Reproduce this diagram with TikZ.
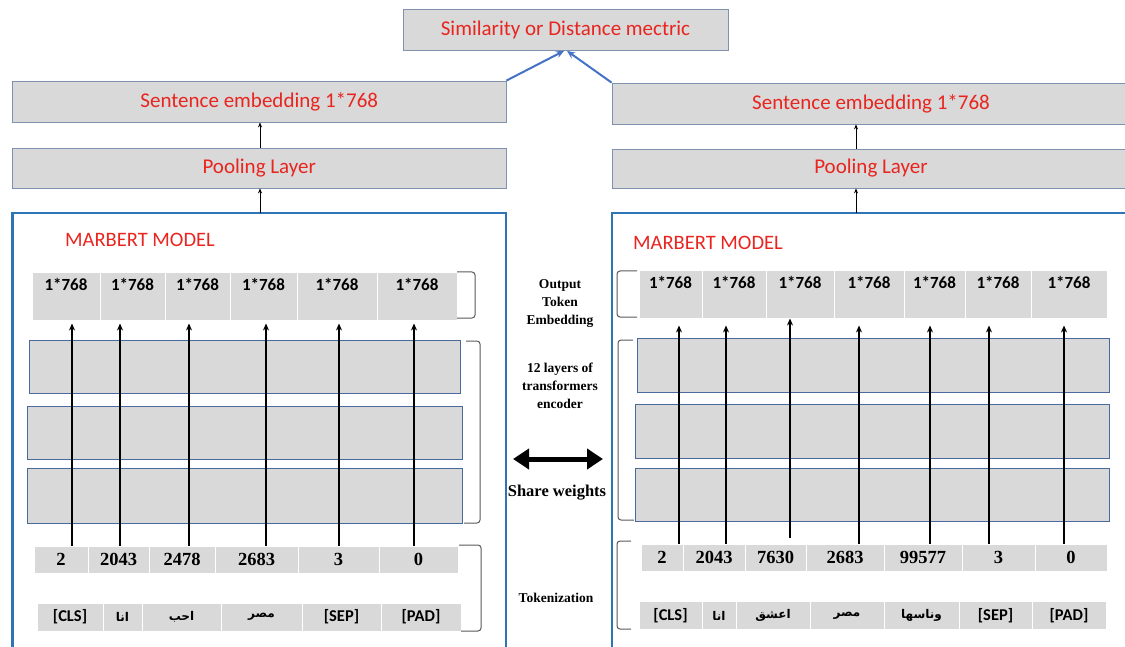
\documentclass[tikz,border=0pt]{standalone}
\usepackage{fontspec}
\setmainfont{Liberation Serif}
\newfontfamily\calibri{Carlito}
\newfontfamily\arabicfont[Script=Arabic]{DejaVu Sans}
\TeXXeTstate=1
\usetikzlibrary{arrows.meta, positioning}

\definecolor{boxgray}{HTML}{D9D9D9}
\definecolor{headedge}{HTML}{7F93B0}
\definecolor{layeredge}{HTML}{4A6A9E}
\definecolor{frameblue}{HTML}{2E75B6}
\definecolor{linkblue}{HTML}{4472C4}
\definecolor{labelred}{HTML}{E8251F}
\definecolor{bracegray}{HTML}{595959}

\newcommand{\ar}[1]{{\arabicfont\bfseries\fontsize{12}{15}\selectfont\beginR #1\endR}}

\begin{document}
\begin{tikzpicture}[x = 1pt, y = -1pt,
	headbox/.style = {draw = headedge, fill = boxgray, line width = 0.8pt, inner sep = 0pt,
		font = \calibri\fontsize{21}{24}\selectfont, text = labelred},
	cell/.style = {fill = boxgray, draw = white, line width = 1pt, inner sep = 0pt},
	outcell/.style = {cell, font = \calibri\bfseries\fontsize{17}{20}\selectfont,
		text height = 12pt, text depth = 24pt, minimum height = 47},
	idcell/.style = {cell, font = \bfseries\fontsize{18.5}{21}\selectfont, minimum height = 27},
	tokcell/.style = {cell, font = \calibri\bfseries\fontsize{16.5}{19}\selectfont, minimum height = 28},
	layerbox/.style = {fill = boxgray, draw = layeredge, line width = 0.8pt, inner sep = 0pt},
	modelframe/.style = {draw = frameblue, line width = 2.5pt},
	modelname/.style = {font = \calibri\fontsize{20.5}{24}\selectfont, text = labelred, inner sep = 0pt, anchor = west},
	tokarrow/.style = {-{Stealth[length = 7pt, width = 6pt]}, line width = 1.6pt},
	thinarrow/.style = {-{Stealth[length = 5pt, width = 4pt]}, line width = 0.7pt},
	linkarrow/.style = {-{Stealth[length = 8pt, width = 7pt]}, draw = linkblue, line width = 2pt},
	brace/.style = {draw = bracegray, line width = 1pt, rounded corners = 3pt},
	midlbl/.style = {font = \bfseries\fontsize{13.5}{18}\selectfont, align = center}]

	\useasboundingbox (0,0) rectangle (1125,647);
	\clip (0,0) rectangle (1125,647);

	% similarity head
	\node [headbox, minimum width = 325, minimum height = 41] (metric) at (565.5,30) {Similarity or Distance mectric};

	% left tower, top part
	\node [headbox, minimum width = 493.5, minimum height = 41] (lsent) at (259.25,101.5) {Sentence embedding 1*768};
	\node [headbox, minimum width = 493.5, minimum height = 40] (lpool) at (259.25,168) {Pooling Layer};
	\draw [modelframe] (12.5,213) rectangle (506,700);
	\coordinate (lframe) at (260,213);

	% right tower, top part
	\node [headbox, minimum width = 518, minimum height = 41] (rsent) at (871,103.5) {Sentence embedding 1*768};
	\node [headbox, minimum width = 518, minimum height = 39] (rpool) at (871,168.5) {Pooling Layer};
	\draw [modelframe] (612,213) rectangle (1140,700);
	\coordinate (rframe) at (856,213);

	\draw [thinarrow] (lframe) -- (260,0 |- lpool.south);
	\draw [thinarrow] (260,0 |- lpool.north) -- (260,0 |- lsent.south);
	\draw [thinarrow] (rframe) -- (856,0 |- rpool.south);
	\draw [thinarrow] (856,0 |- rpool.north) -- (856,0 |- rsent.south);

	\draw [linkarrow] (lsent.north east) -- ([xshift = -1.5pt]metric.south);
	\draw [linkarrow] (rsent.north west) -- ([xshift = 1.5pt]metric.south);

	\node [modelname] (lname) at (65,240) {MARBERT MODEL};
	\node [modelname] (rname) at (633,243) {MARBERT MODEL};

	% left tower: encoder layers
	\node [layerbox, minimum width = 431, minimum height = 53] (llayer1) at (244.5,366.5) {};
	\node [layerbox, minimum width = 434.5, minimum height = 53] (llayer2) at (244.75,432.5) {};
	\node [layerbox, minimum width = 434.5, minimum height = 55] (llayer3) at (244.75,495.5) {};

	% left tower: output, ids, tokens
	\foreach \xa/\xb/\txt [count = \i] in {32/100/{1*768}, 100/165/{1*768}, 165/230/{1*768},
			230/297/{1*768}, 297/377/{1*768}, 377/457/{1*768}} {
		\pgfmathsetmacro\w{\xb-\xa}
		\node [outcell, minimum width = \w] (lout\i) at ({(\xa+\xb)/2},296.5) {\txt};
	}
	\foreach \xa/\xb/\txt [count = \i] in {34/88/2, 88/149/2043, 149/215/2478,
			215/298/2683, 298/379/3, 379/458/0} {
		\pgfmathsetmacro\w{\xb-\xa}
		\node [idcell, minimum width = \w] (lid\i) at ({(\xa+\xb)/2},559.5) {\txt};
	}
	\foreach \xa/\xb/\txt [count = \i] in {37/103/{[CLS]}, 103/142/{\ar{انا}}, 142/221/{\ar{احب}},
			221/302/{\ar{مصر}}, 302/381/{[SEP]}, 381/461/{[PAD]}} {
		\pgfmathsetmacro\w{\xb-\xa}
		\node [tokcell, minimum width = \w] (ltok\i) at ({(\xa+\xb)/2},617) {\txt};
	}

	\foreach \x in {72, 120, 189, 266, 339, 414}
		\draw [tokarrow, shorten > = 3pt] (\x,0 |- lid1.north) -- (\x,0 |- lout1.south);

	\draw [brace] (457,272) -- (475,272) -- (475,318) -- (457,318);
	\draw [brace] (466,341) -- (480,341) -- (480,523) -- (464,523);
	\draw [brace] (459,545) -- (481,545) -- (481,631) -- (461,631);

	% right tower: encoder layers
	\node [layerbox, minimum width = 472, minimum height = 54] (rlayer1) at (873,365) {};
	\node [layerbox, minimum width = 474, minimum height = 54] (rlayer2) at (872,431) {};
	\node [layerbox, minimum width = 474, minimum height = 53] (rlayer3) at (872,494.5) {};

	% right tower: output, ids, tokens
	\foreach \xa/\xb/\txt [count = \i] in {639/702/{1*768}, 702/766/{1*768}, 766/834/{1*768},
			834/904/{1*768}, 904/965/{1*768}, 965/1031/{1*768}, 1031/1107/{1*768}} {
		\pgfmathsetmacro\w{\xb-\xa}
		\node [outcell, minimum width = \w] (rout\i) at ({(\xa+\xb)/2},294.5) {\txt};
	}
	\foreach \xa/\xb/\txt [count = \i] in {641/683/2, 683/745/2043, 745/806/7630,
			806/884/2683, 884/962/99577, 962/1035/3, 1035/1107/0} {
		\pgfmathsetmacro\w{\xb-\xa}
		\node [idcell, minimum width = \w] (rid\i) at ({(\xa+\xb)/2},557.5) {\txt};
	}
	\foreach \xa/\xb/\txt [count = \i] in {639/702/{[CLS]}, 702/736/{\ar{انا}}, 736/810/{\ar{اعشق}},
			810/884/{\ar{مصر}}, 884/959/{\ar{وناسها}}, 959/1032/{[SEP]}, 1032/1106/{[PAD]}} {
		\pgfmathsetmacro\w{\xb-\xa}
		\node [tokcell, minimum width = \w] (rtok\i) at ({(\xa+\xb)/2},615.5) {\txt};
	}

	\foreach \x/\sa/\sb in {679/0/7, 726/0/7, 790/6/0, 859/0/7, 930/0/7, 989/0/7, 1064/0/7}
		\draw [tokarrow, shorten < = \sa pt, shorten > = \sb pt] (\x,0 |- rid1.north) -- (\x,0 |- rout1.south);

	\draw [brace] (637,271) -- (617,271) -- (617,317) -- (637,317);
	\draw [brace] (633,340) -- (618,340) -- (618,520) -- (634,520);
	\draw [brace] (631,541) -- (617,541) -- (617,629) -- (631,629);

	% labels between the towers
	\node [midlbl] (outlbl) at (560,304) {Output\\Token\\Embedding};
	\node [midlbl] (enclbl) at (560,386) {12 layers of\\transformers\\encoder};
	\coordinate (swleft) at (513,459);
	\coordinate (swright) at (603,459);
	\draw [{Triangle[length = 16pt, width = 20pt]}-{Triangle[length = 16pt, width = 20pt]}, line width = 5pt] (swleft) -- (swright);
	\node [font = \bfseries\fontsize{16.5}{19}\selectfont] (swlbl) at (557,493) {Share weights};
	\node [midlbl] (toklbl) at (556,598) {Tokenization};
\end{tikzpicture}
\end{document}
